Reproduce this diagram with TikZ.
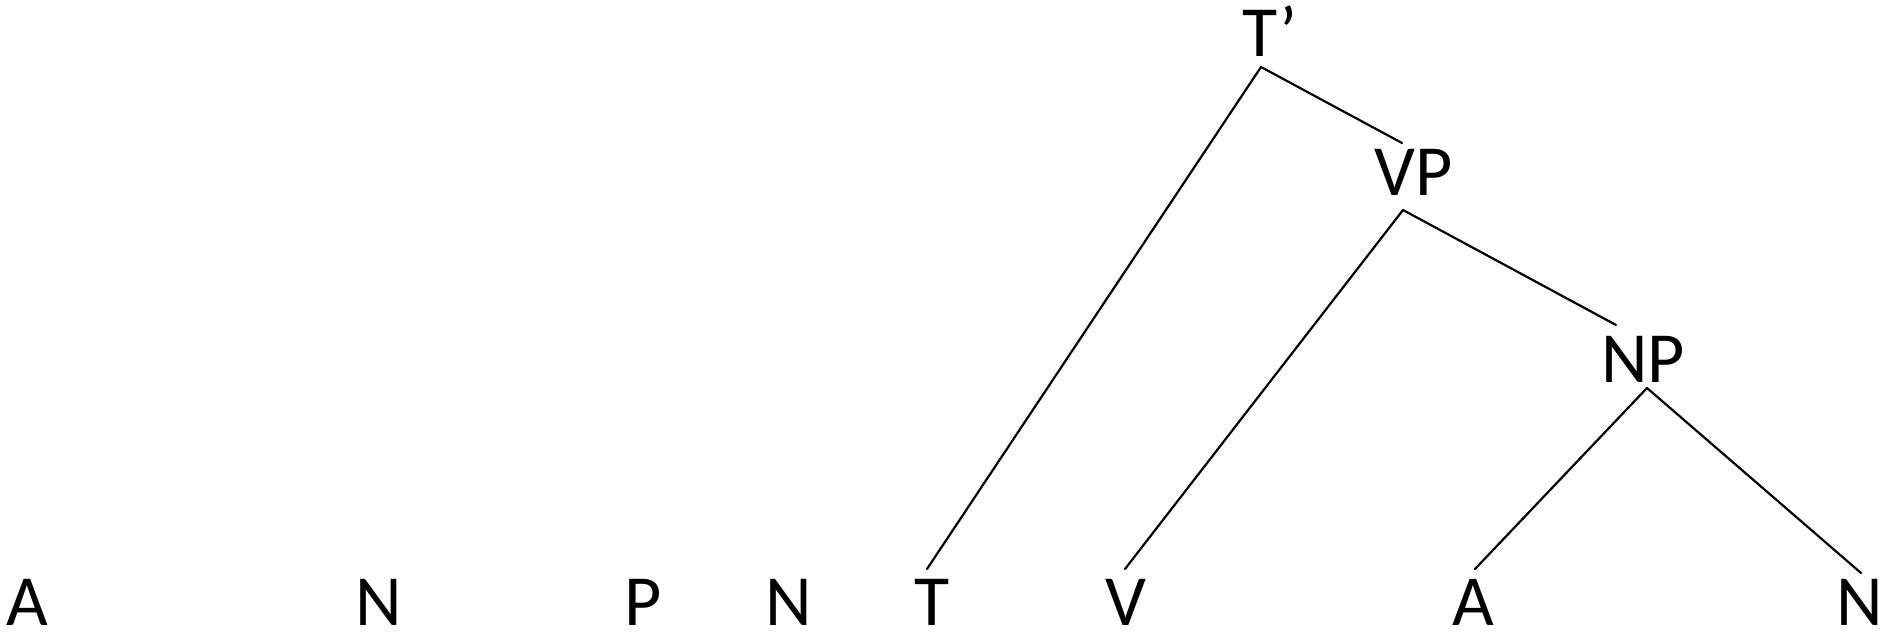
\documentclass[tikz,border=0pt]{standalone}
\usepackage{fontspec}
\setmainfont{Carlito}
\begin{document}
\begin{tikzpicture}[x=1pt,y=1pt,
  lbl/.style={font=\fontsize{72}{80}\selectfont, inner sep=0pt, anchor=base},
  edge/.style={line width=2.2pt, line cap=round}]
\useasboundingbox (0,0) rectangle (1883,634);
% phrase labels
\node[lbl] (tbar) at (1270,577) {T’};
\node[lbl] (vp) at (1414,438) {VP};
\node[lbl] (np) at (1643,251) {NP};
% bottom row
\node[lbl] (a1) at (27,8) {A};
\node[lbl] (n1) at (379,8) {N};
\node[lbl] (p1) at (643,8) {P};
\node[lbl] (n2) at (789,8) {N};
\node[lbl] (t1) at (932,8) {T};
\node[lbl] (v1) at (1126,8) {V};
\node[lbl] (a2) at (1473,8) {A};
\node[lbl] (n3) at (1860,8) {N};
% connectors
\draw[edge] ([shift={(-9,-10)}]tbar.base) -- ([shift={(-12,53)}]vp.base);
\draw[edge] ([shift={(-9,-10)}]tbar.base) -- ([shift={(-5,57)}]t1.base);
\draw[edge] ([shift={(-11,-14)}]vp.base) -- ([shift={(-1,57)}]v1.base);
\draw[edge] ([shift={(-11,-14)}]vp.base) -- ([shift={(-27,58)}]np.base);
\draw[edge] ([shift={(4,-5)}]np.base) -- ([shift={(2,57)}]a2.base);
\draw[edge] ([shift={(4,-5)}]np.base) -- ([shift={(1,53)}]n3.base);
\end{tikzpicture}
\end{document}
